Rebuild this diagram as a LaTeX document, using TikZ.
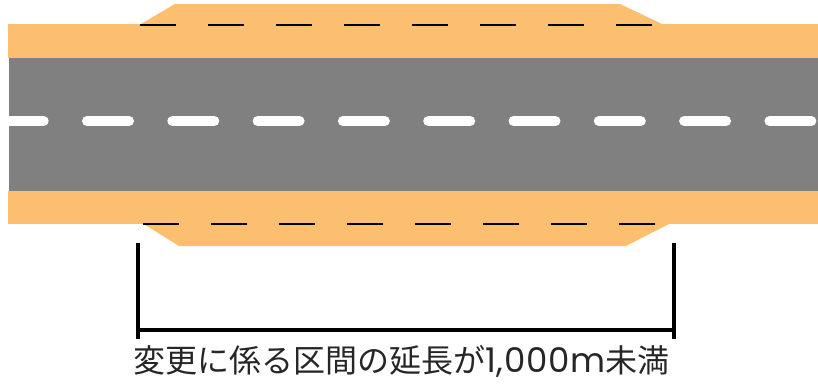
\documentclass[tikz,border=0pt]{standalone}
\usepackage{fontspec}
\newfontfamily\cjk{Noto Sans CJK JP}
\newfontfamily\digitfont{Poppins}
\definecolor{shoulder}{HTML}{FBBF6F}
\definecolor{asphalt}{HTML}{808080}
\tikzset{
  band/.style={fill=shoulder, draw=none},
  road/.style={fill=asphalt, draw=none},
  lanedash/.style={line width=2.2pt, black},
  centerdash/.style={line width=10pt, white, line cap=round},
  bracketline/.style={line width=4pt, black},
  caption/.style={font=\cjk\fontsize{32pt}{36pt}\selectfont, inner sep=0pt, text=black!85}
}
\begin{document}
\begin{tikzpicture}[x=1pt,y=-1pt]
\useasboundingbox (0,0) rectangle (818,383);
% shoulders
\fill[band] (8,24) rectangle (818,58);
\fill[band] (140,24.5) -- (175,4) -- (620,4) -- (663,24.5) -- cycle;
\fill[band] (8,191) rectangle (818,224);
\fill[band] (143,223.5) -- (179,246) -- (626,246) -- (670,223.5) -- cycle;
% road
\fill[road] (9,58) rectangle (818,191);
% lane dashes (widened lanes)
\foreach \i in {0,...,7} {
  \draw[lanedash] ({140+68*\i},25) -- ({176+68*\i},25);
  \draw[lanedash] ({143+68*\i},224.3) -- ({179+68*\i},224.3);
}
% centre line
\begin{scope}
\clip (0,58) rectangle (818,191);
\foreach \i in {-1,...,8} {
  \draw[centerdash] ({87+85.3*\i},121) -- ({129+85.3*\i},121);
}
\end{scope}
% bracket
\coordinate (lt) at (138,243);
\coordinate (lb) at (138,339);
\coordinate (rt) at (674,243);
\coordinate (rb) at (674,339);
\coordinate (lm) at (138,330);
\coordinate (rm) at (674,330);
\draw[bracketline] (lt) -- (lb);
\draw[bracketline] (rt) -- (rb);
\draw[bracketline] (lm) -- (rm);
\node[caption] (cap) at (401.5,361) {変更に係る区間の延長が{\digitfont\fontsize{34pt}{36pt}\selectfont\addfontfeatures{LetterSpace=2}1,000m}未満};
\end{tikzpicture}
\end{document}
